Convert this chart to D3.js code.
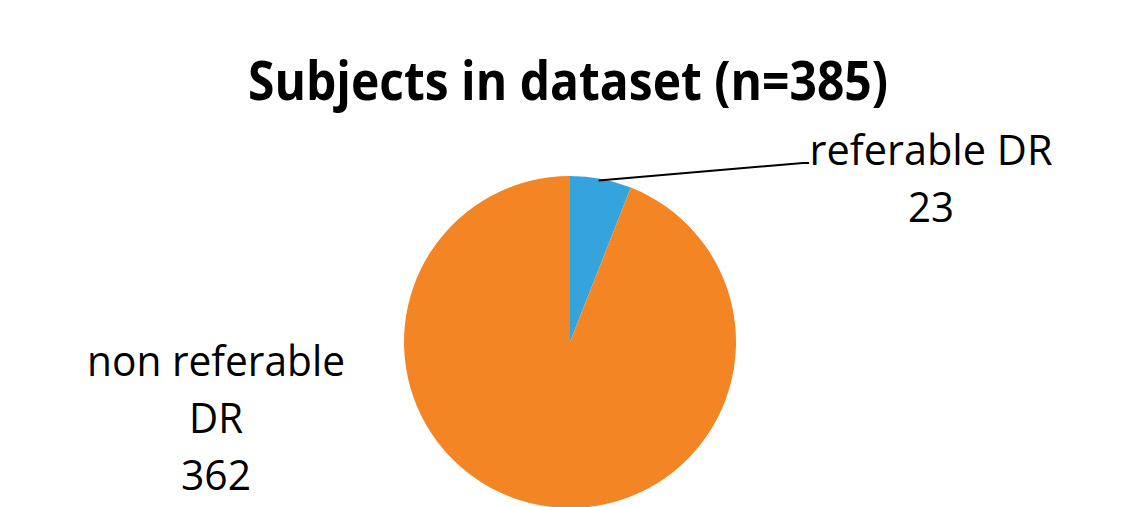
<!DOCTYPE html>
<html><head><meta charset="utf-8">
<script src="https://cdn.jsdelivr.net/npm/d3@7"></script>
<style>html,body{margin:0;padding:0;background:#fff;overflow:hidden}</style>
</head><body>
<svg id="c" width="1137" height="507"></svg>
<script>
const title = "Subjects in dataset (n=385)";
const categories = ["referable DR", "non referable DR"];
const values = [23, 362];
const colors = ["#36A4DC", "#F48524"];

const svg = d3.select("#c");
const W = 1137, H = 507;
svg.append("rect").attr("width", W).attr("height", H).attr("fill", "#fff");

const cx = 570, cy = 342, r = 166;
const pie = d3.pie().sort(null).value(d => d)(values);
const arc = d3.arc().innerRadius(0).outerRadius(r);
const g = svg.append("g").attr("transform", `translate(${cx},${cy})`);
g.selectAll("path").data(pie).join("path")
  .attr("d", arc).attr("fill", (d, i) => colors[i]);

// title
svg.append("text").attr("x", 568).attr("y", 100).attr("text-anchor", "middle")
  .attr("font-family", "Open Sans, sans-serif").attr("font-weight", "bold")
  .attr("font-size", 53).attr("textLength", 640).attr("lengthAdjust", "spacingAndGlyphs")
  .attr("fill", "#000").text(title);

// leader line for small slice
const mid = (pie[0].startAngle + pie[0].endAngle) / 2;
const p0 = [cx + Math.sin(mid) * r * 0.99 - 2, cy - Math.cos(mid) * r * 0.99];
svg.append("path")
  .attr("d", `M${p0[0]},${p0[1]} L803,163 L809,163`)
  .attr("fill", "none").attr("stroke", "#000").attr("stroke-width", 2);

const font = {family: "Open Sans, sans-serif", size: 42};
function label(lines, x, y0, widths) {
  lines.forEach((t, i) => {
    svg.append("text").attr("x", x).attr("y", y0 + i * 57).attr("text-anchor", "middle")
      .attr("font-family", font.family).attr("font-size", font.size)
      .attr("textLength", widths[i]).attr("lengthAdjust", "spacingAndGlyphs")
      .attr("fill", "#000").text(t);
  });
}
label([categories[0], String(values[0])], 931, 165, [243, 46]);
label(["non referable", "DR", String(values[1])], 216, 376, [258, 54, 70]);
</script>
</body></html>
